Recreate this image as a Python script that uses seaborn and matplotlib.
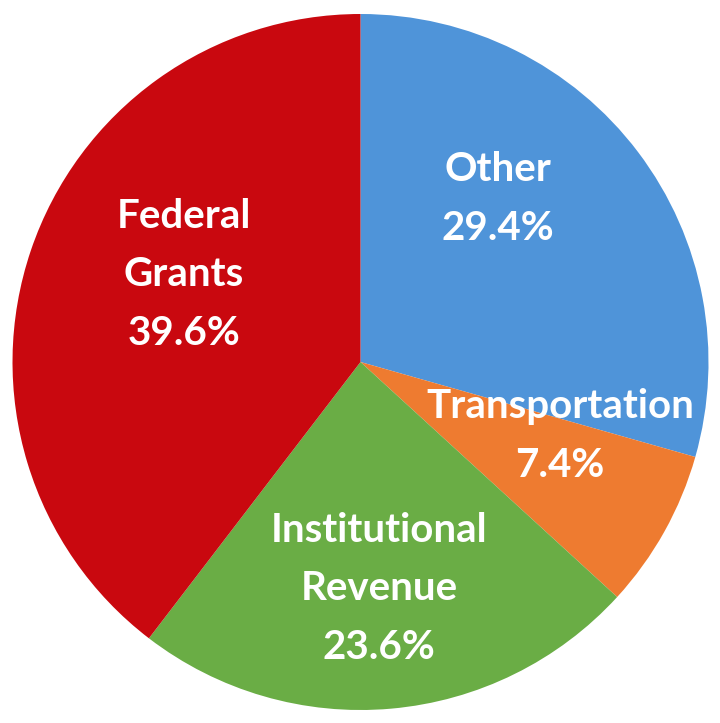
import matplotlib
matplotlib.use("Agg")
import matplotlib.pyplot as plt
import seaborn as sns

# Data
categories = ["Other", "Transportation", "Institutional\nRevenue", "Federal\nGrants"]
shares = [29.4, 7.4, 23.6, 39.6]

# Style
colors = ["#4f94d9", "#ee7b30", "#6aad45", "#c9080f"]
label_pos = [(0.395, 0.468), (0.573, -0.213), (0.053, -0.652), (-0.507, 0.25)]

sns.set_theme(style="white")
plt.rcParams['font.family'] = ['Lato', 'DejaVu Sans']

fig = plt.figure(figsize=(7.2, 7.23), dpi=100)
ax = fig.add_axes([0, 0, 1, 1])

ax.pie(shares, colors=colors, startangle=90, counterclock=False,
       wedgeprops=dict(linewidth=0))

for cat, share, (x, y) in zip(categories, shares, label_pos):
    ax.text(x, y, f"{cat}\n{share:.1f}%", ha="center", va="center",
            color="white", fontsize=29, fontweight="bold", linespacing=1.72)

r_px = 348.0
ax.set_xlim(-360.5 / r_px, (720 - 360.5) / r_px)
ax.set_ylim(-(723 - 362) / r_px, 362 / r_px)
ax.set_aspect("auto")
ax.axis("off")

fig.savefig("out.png", dpi=100, facecolor="white")
